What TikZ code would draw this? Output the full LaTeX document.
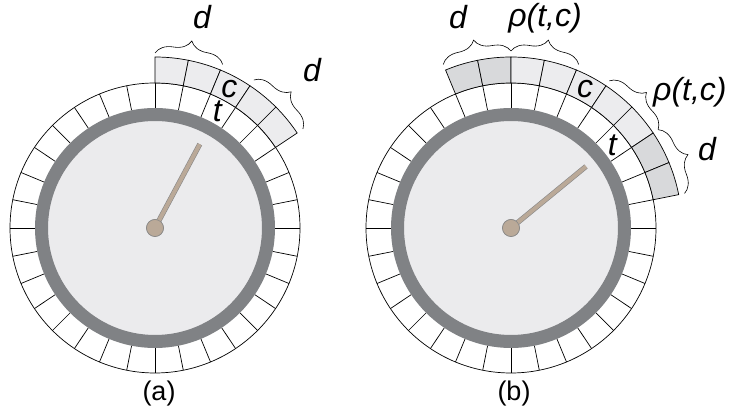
\documentclass[tikz,border=0pt]{standalone}
\usepackage{fontspec}
\setmainfont{Liberation Sans}
\usepackage{tikz}
\usetikzlibrary{decorations.pathreplacing}
\definecolor{rimgray}{RGB}{128,130,133}
\definecolor{facegray}{RGB}{235,235,237}
\definecolor{cellA}{RGB}{236,236,238}
\definecolor{cellB}{RGB}{216,217,219}
\definecolor{handtan}{RGB}{186,169,152}
\definecolor{handedge}{RGB}{135,135,135}

\begin{document}
\begin{tikzpicture}[
    x=1pt, y=1pt,
    cell/.style={draw=black, line width=0.7pt},
    slot/.style={draw=black, line width=0.7pt, fill=#1},
    rim/.style={draw=rimgray, line width=13pt},
    hand/.style={draw=handedge, double=handtan, double distance=4pt, line width=0.6pt},
    knob/.style={circle, fill=handtan, draw=handedge, line width=0.6pt, minimum size=17pt, inner sep=0pt},
    brc/.style={decorate, decoration={brace, amplitude=18pt}, line width=0.6pt},
    lbl/.style={font=\fontsize{32}{34}\selectfont\itshape, inner sep=0pt},
    dialcap/.style={font=\fontsize{27}{29}\selectfont, inner sep=0pt},
]
    \useasboundingbox (0,0) rectangle (729,412);

    % Dial (a)
    \begin{scope}[shift={(155,184)}]
        \draw[cell, fill=white] (0,0) circle (145);
        \foreach \i in {0,...,31}
            \draw[cell] (\i*11.25:120) -- (\i*11.25:145);
        \fill[facegray] (0,0) circle (114);
        \draw[rim] (0,0) circle (113.5);
        % extended slots
        \foreach \a in {90,78.75,67.5,56.25,45}
            \draw[slot=cellA] (\a:145) arc[start angle=\a, end angle=\a-11.25, radius=145]
                -- ({\a-11.25}:171) arc[start angle=\a-11.25, end angle=\a, radius=171] -- cycle;
        % hand
        \coordinate (tipA) at (61.875:95);
        \node[knob] (knobA) at (0,0) {};
        \draw[hand] (knobA.center) -- (tipA);
        \node[knob] at (knobA) {};
        % braces
        \coordinate (ba1) at (90:175);
        \coordinate (ba2) at (67.5:177);
        \coordinate (ba3) at (56.25:178);
        \coordinate (ba4) at (33.75:178);
        \draw[brc] (ba1) -- (ba2);
        \draw[brc] (ba3) -- (ba4);
        % labels
        \node[lbl] (dA1) at (47,211) {d};
        \node[lbl] (dA2) at (157,158) {d};
        \node[lbl] (cA) at (61.875:158) {c};
        \node[lbl] (tA) at (61.875:132) {t};
        \node[dialcap] (capA) at (4,-166) {(a)};
    \end{scope}

    % Dial (b)
    \begin{scope}[shift={(511,184)}]
        \draw[cell, fill=white] (0,0) circle (145);
        \foreach \i in {0,...,31}
            \draw[cell] (\i*11.25:120) -- (\i*11.25:145);
        \fill[facegray] (0,0) circle (114);
        \draw[rim] (0,0) circle (113.5);
        % extended slots
        \foreach \a/\col in {112.5/cellB, 101.25/cellB, 90/cellA, 78.75/cellA, 67.5/cellA,
                             56.25/cellA, 45/cellA, 33.75/cellB, 22.5/cellB}
            \draw[slot=\col] (\a:145) arc[start angle=\a, end angle=\a-11.25, radius=145]
                -- ({\a-11.25}:171) arc[start angle=\a-11.25, end angle=\a, radius=171] -- cycle;
        % hand
        \coordinate (tipB) at (39.375:97);
        \node[knob] (knobB) at (0,0) {};
        \draw[hand] (knobB.center) -- (tipB);
        \node[knob] at (knobB) {};
        % braces
        \coordinate (bb1) at (112.5:177);
        \coordinate (bb2) at (90:177);
        \coordinate (bb3) at (67.5:177);
        \coordinate (bb4) at (56.25:177);
        \coordinate (bb5) at (33.75:177);
        \coordinate (bb6) at (11.25:177);
        \draw[brc] (bb1) -- (bb2);
        \draw[brc] (bb2) -- (bb3);
        \draw[brc] (bb4) -- (bb5);
        \draw[brc] (bb5) -- (bb6);
        % labels
        \node[lbl] (dB1) at (-53,211) {d};
        \node[lbl] (rB1) at (34,210) {ρ(t,c)};
        \node[lbl, anchor=west] (rB2) at (142,136) {ρ(t,c)};
        \node[lbl] (dB2) at (196,79) {d};
        \node[lbl] (cB) at (61.875:157) {c};
        \node[lbl] (tB) at (39.375:131) {t};
        \node[dialcap] (capB) at (3,-166) {(b)};
    \end{scope}
\end{tikzpicture}
\end{document}
